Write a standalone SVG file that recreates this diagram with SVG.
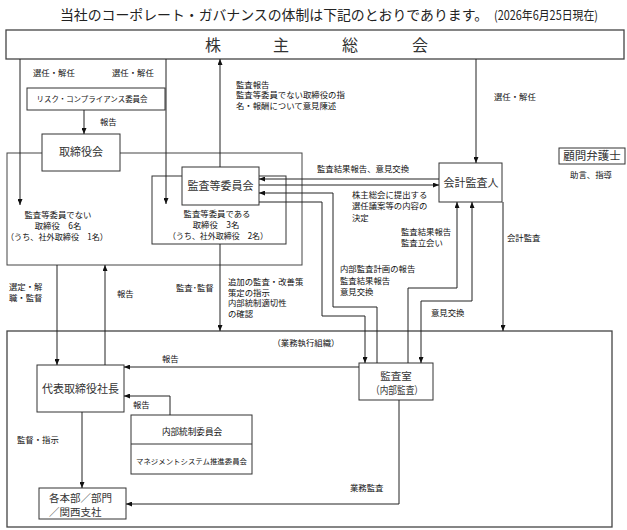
<svg xmlns="http://www.w3.org/2000/svg" width="627" height="530" viewBox="0 0 627 530">
<defs>
<marker id="ah" viewBox="0 0 6 5" markerWidth="6" markerHeight="5" refX="6" refY="2.5" orient="auto-start-reverse" markerUnits="userSpaceOnUse">
<path d="M0,0 L6,2.5 L0,5 z" fill="#111"/>
</marker>
<style>
text{font-family:"Noto Sans CJK JP","Noto Sans CJK SC",sans-serif;fill:#111}
.s{font-size:8.4px}
.n{font-size:11px;fill:#333}
.tt{font-size:14px;fill:#222}
.box{fill:#fff;stroke:#333;stroke-width:1}
.frame{fill:none;stroke:#444;stroke-width:1.3}
.c{fill:none;stroke:#222;stroke-width:1}
.m{text-anchor:middle}
</style>
</defs>
<rect width="627" height="530" fill="#fff"/>
<text class="tt" x="60" y="20" textLength="428" lengthAdjust="spacingAndGlyphs">当社のコーポレート・ガバナンスの体制は下記のとおりであります。</text>
<text class="tt" x="494" y="20" style="font-size:12.5px" textLength="104" lengthAdjust="spacingAndGlyphs">(2026年6月25日現在)</text>

<g id="board-frame">
<rect class="frame" x="7" y="153" width="295" height="112" style="stroke-width:1"/>
<text class="s m" x="58" y="218">監査等委員でない</text>
<text class="s m" x="58" y="229">取締役　6名</text>
<text class="s m" x="57" y="240" textLength="102" lengthAdjust="spacingAndGlyphs">（うち、社外取締役　1名）</text>
</g>
<g id="audit-frame">
<rect class="box" x="152" y="176" width="134" height="68"/>
<text class="s m" x="217" y="217">監査等委員である</text>
<text class="s m" x="216" y="228">取締役　3名</text>
<text class="s m" x="218" y="239" textLength="100" lengthAdjust="spacingAndGlyphs">（うち、社外取締役　2名）</text>
</g>
<g id="exec-frame">
<rect class="frame" x="7" y="331" width="605" height="196"/>
<text class="s m" x="306" y="346">（業務執行組織）</text>
</g>

<g id="shareholders">
<rect class="frame" x="6" y="30" width="618" height="29"/>
<text x="205 273 342 412" y="51" style="font-size:16px;fill:#333">株主総会</text>
</g>
<g id="risk">
<rect class="box" x="27" y="88" width="138" height="22"/>
<text class="m" x="92" y="102" style="font-size:7.5px" textLength="111" lengthAdjust="spacingAndGlyphs">リスク・コンプライアンス委員会</text>
</g>
<g id="board">
<rect class="box" x="42" y="134" width="78" height="37"/>
<text class="n m" x="81" y="156">取締役会</text>
</g>
<g id="audit-committee">
<rect class="box" x="182" y="167" width="77" height="38"/>
<text class="n m" x="220.5" y="190">監査等委員会</text>
</g>
<g id="accounting-auditor">
<rect class="box" x="439" y="163" width="63" height="39"/>
<text class="n m" x="471" y="187">会計監査人</text>
</g>
<g id="lawyer">
<rect class="box" x="559" y="148" width="66" height="16"/>
<text class="m" x="592" y="160" style="font-size:11.5px;fill:#333">顧問弁護士</text>
<text class="s m" x="591" y="178">助言、指導</text>
</g>
<g id="president">
<rect class="box" x="37" y="365" width="87" height="47"/>
<text class="n m" x="80.5" y="393">代表取締役社長</text>
</g>
<g id="internal-audit">
<rect class="box" x="359" y="363" width="74" height="37"/>
<text class="n m" x="396" y="380" style="font-size:10.5px">監査室</text>
<text class="n m" x="397" y="394" style="font-size:10.5px" textLength="52" lengthAdjust="spacingAndGlyphs">（内部監査）</text>
</g>
<g id="internal-control">
<rect class="box" x="131" y="415" width="121" height="59"/>
<line class="c" x1="131" y1="444" x2="252" y2="444" style="stroke:#333"/>
<text class="m" x="192" y="435" style="font-size:8.6px">内部統制委員会</text>
<text class="m" x="191.5" y="464" style="font-size:7.4px" textLength="111" lengthAdjust="spacingAndGlyphs">マネジメントシステム推進委員会</text>
</g>
<g id="divisions">
<rect class="box" x="39" y="488" width="87" height="31"/>
<text class="n" x="49" y="501.5" style="font-size:10.5px">各本部／部門</text>
<text class="n" x="49" y="515.5" style="font-size:10.5px">／関西支社</text>
</g>

<g id="connectors">
<path class="c" d="M20,59 V205" marker-end="url(#ah)"/>
<path class="c" d="M166,59 V204" marker-end="url(#ah)"/>
<path class="c" d="M220,167 V59" marker-end="url(#ah)"/>
<path class="c" d="M476,59 V163" marker-end="url(#ah)"/>
<path class="c" d="M84,110 V134" marker-end="url(#ah)"/>
<path class="c" d="M439,179 H259" marker-end="url(#ah)"/>
<path class="c" d="M259,185 H439" marker-end="url(#ah)"/>
<path class="c" d="M377,363 V307 H333 V193 H259" marker-end="url(#ah)"/>
<path class="c" d="M259,202 H322 V316 H365 V363" marker-end="url(#ah)"/>
<path class="c" d="M408,363 V288 H457 V202" marker-end="url(#ah)"/>
<path class="c" d="M421,363 V301 H472 V202" marker-start="url(#ah)" marker-end="url(#ah)"/>
<path class="c" d="M503,202 V331" marker-end="url(#ah)"/>
<path class="c" d="M57,265 V365" marker-end="url(#ah)"/>
<path class="c" d="M105,365 V265" marker-end="url(#ah)"/>
<path class="c" d="M220,244 V331" marker-end="url(#ah)"/>
<path class="c" d="M359,367 H124" marker-end="url(#ah)"/>
<path class="c" d="M170,415 V396 H124" marker-end="url(#ah)"/>
<path class="c" d="M82,412 V488" marker-end="url(#ah)"/>
<path class="c" d="M399,400 V504 H126" marker-end="url(#ah)"/>

<text class="s" x="33" y="76">選任・解任</text>
<text class="s" x="112" y="76">選任・解任</text>
<text class="s" x="100" y="125">報告</text>
<text class="s" x="236" y="87.5">監査報告</text>
<text class="s" x="236" y="98">監査等委員でない取締役の指</text>
<text class="s" x="236" y="108.5">名・報酬について意見陳述</text>
<text class="s" x="494" y="100">選任・解任</text>
<text class="s" x="317" y="172">監査結果報告、意見交換</text>
<text class="s" x="352" y="198">株主総会に提出する</text>
<text class="s" x="352" y="209">選任議案等の内容の</text>
<text class="s" x="352" y="221">決定</text>
<text class="s" x="401" y="235">監査結果報告</text>
<text class="s" x="401" y="246">監査立会い</text>
<text class="s" x="507" y="241">会計監査</text>
<text class="s" x="340" y="272">内部監査計画の報告</text>
<text class="s" x="340" y="284">監査結果報告</text>
<text class="s" x="340" y="295">意見交換</text>
<text class="s" x="431" y="316">意見交換</text>
<text class="s" x="9" y="290">選定・解</text>
<text class="s" x="9" y="301">職・監督</text>
<text class="s" x="117" y="297">報告</text>
<text class="s" x="176" y="291">監査･監督</text>
<text class="s" x="228" y="285">追加の監査・改善策</text>
<text class="s" x="228" y="295.5">策定の指示</text>
<text class="s" x="228" y="306">内部統制適切性</text>
<text class="s" x="228" y="316.5">の確認</text>
<text class="s" x="162" y="362">報告</text>
<text class="s" x="133" y="408">報告</text>
<text class="s" x="17" y="443">監督・指示</text>
<text class="s" x="350" y="491">業務監査</text>
</g>
</svg>
